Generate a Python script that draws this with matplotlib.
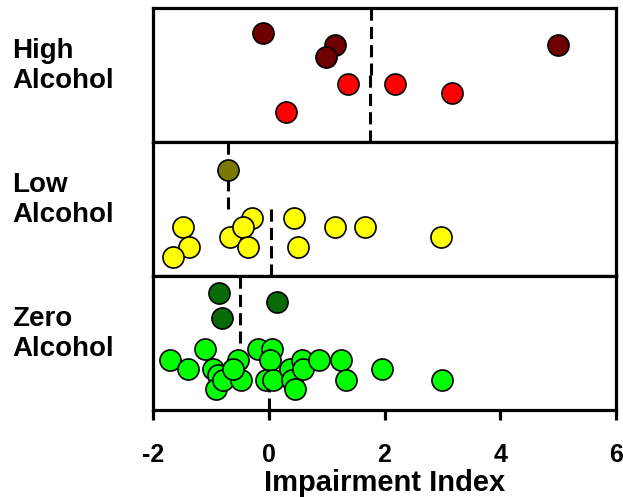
import numpy as np
import matplotlib
matplotlib.use("Agg")
import matplotlib.pyplot as plt

plt.rcParams['font.family'] = ['Liberation Sans', 'DejaVu Sans']
plt.rcParams['font.weight'] = 'bold'

### data (x = impairment index, y = vertical jitter in panel, 0..1)
group_names = ["High\nAlcohol", "Low\nAlcohol", "Zero\nAlcohol"]

high_dark_x = [-0.10, 1.15, 0.99, 4.99]
high_dark_y = [0.81, 0.72, 0.63, 0.72]
high_light_x = [1.37, 2.18, 3.17, 0.29]
high_light_y = [0.43, 0.43, 0.36, 0.22]
high_means = [1.76, 1.75]

low_dark_x = [-0.71]
low_dark_y = [0.79]
low_light_x = [-1.48, -1.38, -1.66, -0.29, -0.67, -0.44, -0.35, 0.43, 0.51, 1.15, 1.66, 2.97]
low_light_y = [0.36, 0.21, 0.14, 0.43, 0.29, 0.36, 0.21, 0.43, 0.21, 0.36, 0.36, 0.29]
low_means = [-0.71, 0.04]

zero_dark_x = [-0.86, -0.80, 0.15]
zero_dark_y = [0.87, 0.68, 0.80]
zero_light_x = [-1.71, -1.39, -1.10, -0.96, -0.87, -0.91, -0.79, -0.53, -0.48, -0.61,
                -0.18, 0.05, 0.02, -0.04, 0.08, 0.36, 0.40, 0.45, 0.57, 0.60,
                0.86, 1.24, 1.33, 1.95, 2.99]
zero_light_y = [0.37, 0.30, 0.45, 0.30, 0.26, 0.15, 0.22, 0.37, 0.22, 0.30,
                0.45, 0.45, 0.37, 0.22, 0.22, 0.30, 0.22, 0.15, 0.37, 0.30,
                0.37, 0.37, 0.22, 0.30, 0.22]
zero_means = [-0.50, 0.00]

xticks = [-2, 0, 2, 4, 6]

panels = [
    (high_dark_x, high_dark_y, high_light_x, high_light_y, high_means, '#6e0000', '#ff0000'),
    (low_dark_x, low_dark_y, low_light_x, low_light_y, low_means, '#7a7a00', '#ffff00'),
    (zero_dark_x, zero_dark_y, zero_light_x, zero_light_y, zero_means, '#086b08', '#00ff00'),
]

fig = plt.figure(figsize=(6.23, 4.97), dpi=100)
left, right = 153 / 623, 616 / 623
edges = [7.5, 141.5, 275.5, 409.5]  # panel borders in pixels from top

axes = []
for i, (dx, dy, lx, ly, means, dcol, lcol) in enumerate(panels):
    top = 1 - edges[i] / 497
    bot = 1 - edges[i + 1] / 497
    ax = fig.add_axes([left, bot, right - left, top - bot])
    ax.set_xlim(-2, 6)
    ax.set_ylim(0, 1)
    ax.scatter(dx, dy, s=230, c=dcol, edgecolors='black', linewidths=1.2, zorder=3, clip_on=False)
    ax.scatter(lx, ly, s=230, c=lcol, edgecolors='black', linewidths=1.2, zorder=3, clip_on=False)
    # group means: dark group in the upper half, light group in the lower half
    ax.plot([means[0], means[0]], [1.0, 0.5], color='black', lw=2.2, dashes=(4, 2), zorder=2)
    ax.plot([means[1], means[1]], [0.5, 0.0], color='black', lw=2.2, dashes=(4, 2), zorder=2)
    for sp in ax.spines.values():
        sp.set_linewidth(2.3)
    ax.set_yticks([])
    if i < 2:
        ax.set_xticks([])
    else:
        ax.set_xticks(xticks)
        ax.set_xticklabels([str(t) for t in xticks], fontsize=18, fontweight='bold')
        ax.tick_params(axis='x', direction='out', length=7, width=2.3, pad=17)
        ax.set_xlabel("Impairment Index", fontsize=21, fontweight='bold')
        ax.xaxis.set_label_coords(0.5, -0.445)
        ax.xaxis.label.set_va('top')
    fig.text(12 / 623, 1 - (edges[i] + 30) / 497, group_names[i], fontsize=20,
             fontweight='bold', va='top', ha='left', linespacing=1.25)
    axes.append(ax)

fig.savefig("out.png", dpi=100)
